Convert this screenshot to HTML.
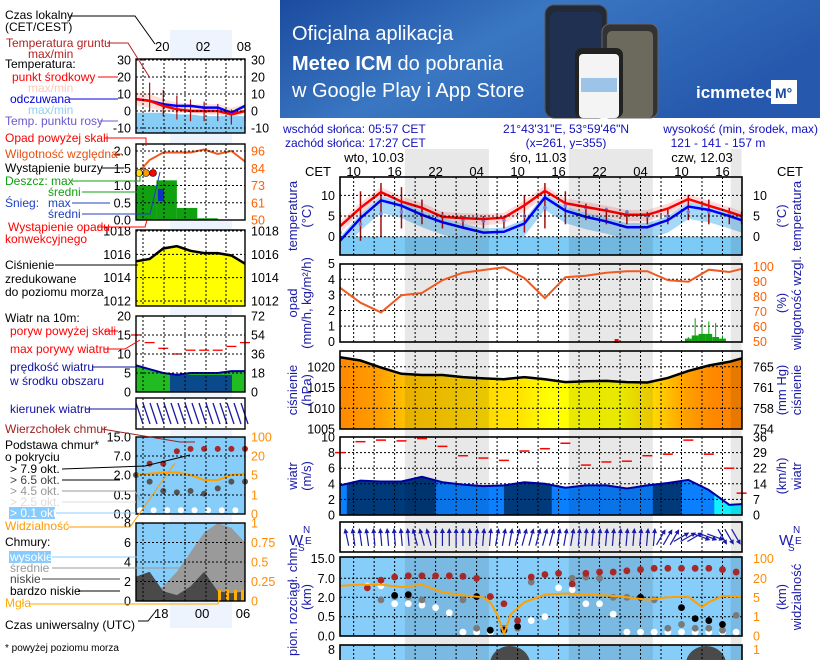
<!DOCTYPE html>
<html><head><meta charset="utf-8">
<style>
body{margin:0;background:#fff;}
svg{display:block;font-family:"Liberation Sans",sans-serif;}
.lg{font-size:12px;}
.tk{font-size:12px;}
</style></head>
<body>
<svg id="c" width="820" height="660" viewBox="0 0 820 660" xmlns="http://www.w3.org/2000/svg">
<defs>
 <linearGradient id="bannerGrad" x1="0" y1="0" x2="1" y2="0.4">
  <stop offset="0" stop-color="#1b4b9f"/><stop offset="0.45" stop-color="#3a77c2"/><stop offset="1" stop-color="#2659ad"/>
 </linearGradient>
 <linearGradient id="presGrad" gradientUnits="userSpaceOnUse" x1="340" y1="0" x2="742" y2="0">
  <stop offset="0" stop-color="#ff8800"/><stop offset="0.1" stop-color="#ffa000"/><stop offset="0.16" stop-color="#ffc000"/>
  <stop offset="0.3" stop-color="#ffd400"/><stop offset="0.45" stop-color="#ffe400"/><stop offset="0.52" stop-color="#ffff00"/>
  <stop offset="0.7" stop-color="#ffff00"/><stop offset="0.78" stop-color="#ffd800"/>
  <stop offset="0.86" stop-color="#ffa000"/><stop offset="0.93" stop-color="#ff8800"/><stop offset="1" stop-color="#ff8400"/>
 </linearGradient>
 <clipPath id="plotClip"><rect x="340" y="170" width="402" height="490"/></clipPath>
</defs>

<g>
 <rect x="280" y="0" width="540" height="118" fill="url(#bannerGrad)"/>
 <text x="292" y="40" fill="#fff" font-size="20">Oficjalna aplikacja</text>
 <text x="292" y="70" fill="#fff" font-size="20"><tspan font-weight="bold">Meteo ICM</tspan> do pobrania</text>
 <text x="292" y="97" fill="#fff" font-size="20">w Google Play i App Store</text>
 <rect x="545" y="5" width="62" height="113" rx="9" fill="#222a38" stroke="#555"/>
 <rect x="550" y="12" width="52" height="106" rx="6" fill="#203050"/>
 <rect x="602" y="24" width="56" height="94" rx="8" fill="#333" stroke="#666"/>
 <rect x="607" y="31" width="46" height="87" rx="5" fill="#6b6a5c"/>
 <rect x="575" y="48" width="48" height="70" rx="7" fill="#222"/>
 <rect x="579" y="54" width="40" height="64" rx="4" fill="#f4f4f4"/>
 <rect x="581" y="78" width="36" height="14" fill="#9cc3e8"/>
 <text x="696" y="98" fill="#fff" font-size="17" font-weight="bold">icmmeteo</text>
 <rect x="771" y="80" width="26" height="24" fill="#fff"/>
 <text x="775" y="98" fill="#1b4b9f" font-size="14" font-weight="bold">M°</text>
</g>

<g class="tk" fill="#1010c0">
 <text x="283" y="133">wschód słońca: 05:57 CET</text>
 <text x="285" y="147">zachód słońca: 17:27 CET</text>
 <text x="566" y="133" text-anchor="middle">21°43'31"E, 53°59'46"N</text>
 <text x="566" y="147" text-anchor="middle">(x=261, y=355)</text>
 <text x="818" y="133" text-anchor="end">wysokość (min, środek, max)</text>
 <text x="718" y="147" text-anchor="middle">121 - 141 - 157 m</text>
</g>

<g id="night-layer"></g>
<g id="chart-layer"></g>

<g id="left-layer"></g>
<g class="lg">
 <text x="5" y="19">Czas lokalny</text>
 <text x="5" y="31">(CET/CEST)</text>
 <text x="6" y="47" fill="#b22222">Temperatura gruntu</text>
 <text x="28" y="58" fill="#b22222">max/min</text>
 <text x="5" y="68">Temperatura:</text>
 <text x="12" y="81" fill="#ff0000">punkt środkowy</text>
 <text x="28" y="92" fill="#ffc8b8">max/min</text>
 <text x="10" y="103" fill="#0000e0">odczuwana</text>
 <text x="28" y="114" fill="#90d0f0">max/min</text>
 <text x="5" y="125" fill="#6a5acd">Temp. punktu rosy</text>
 <text x="5" y="142" fill="#ff0000">Opad powyżej skali</text>
 <text x="5" y="158" fill="#e85010">Wilgotność względna</text>
 <text x="5" y="172">Wystąpienie burzy</text>
 <text x="5" y="185" fill="#10a010">Deszcz: max</text>
 <text x="48" y="196" fill="#10a010">średni</text>
 <text x="5" y="207" fill="#2040c0">Śnieg:</text>
 <text x="48" y="207" fill="#2040c0">max</text>
 <text x="48" y="218" fill="#2040c0">średni</text>
 <text x="8" y="231" fill="#ff0000">Wystąpienie opadu</text>
 <text x="5" y="243" fill="#ff0000">konwekcyjnego</text>
 <text x="5" y="269">Ciśnienie</text>
 <text x="5" y="283">zredukowane</text>
 <text x="5" y="296">do poziomu morza</text>
 <text x="5" y="322">Wiatr na 10m:</text>
 <text x="10" y="335" fill="#ff0000">poryw powyżej skali</text>
 <text x="10" y="353" fill="#ff0000">max porywy wiatru</text>
 <text x="10" y="371" fill="#1010a0">prędkość wiatru</text>
 <text x="10" y="385" fill="#1010a0">w środku obszaru</text>
 <text x="10" y="413" fill="#1010a0">kierunek wiatru</text>
 <text x="5" y="433" fill="#a02020">Wierzchołek chmur</text>
 <text x="5" y="449">Podstawa chmur*</text>
 <text x="5" y="461">o pokryciu</text>
 <text x="10" y="473">&gt; 7.9 okt.</text>
 <text x="10" y="484" fill="#444">&gt; 6.5 okt.</text>
 <text x="10" y="495" fill="#999">&gt; 4.5 okt.</text>
 <text x="10" y="506" fill="#ddd">&gt; 2.5 okt.</text>
 <rect x="9" y="507" width="46" height="12" fill="#88ccff"/>
 <text x="10" y="517" fill="#fff">&gt; 0.1 okt.</text>
 <text x="5" y="530" fill="#ff9900">Widzialność</text>
 <text x="5" y="546">Chmury:</text>
 <rect x="9" y="551" width="42" height="12" fill="#88ccff"/>
 <text x="10" y="561" fill="#fff">wysokie</text>
 <text x="10" y="572" fill="#999">średnie</text>
 <text x="10" y="583" fill="#444">niskie</text>
 <text x="10" y="595">bardzo niskie</text>
 <text x="5" y="607" fill="#ffaa00">Mgła</text>
 <text x="5" y="629">Czas uniwersalny (UTC)</text>
 <text x="5" y="651" font-size="10">* powyżej poziomu morza</text>
</g>
<g stroke="#000" stroke-width="1" fill="none">
 <polyline points="70,16 135,16 155,44"/>
 <polyline points="107,43 128,43 150,78" stroke="#b22222"/>
 <polyline points="98,77 118,77" stroke="#ff0000"/>
 <polyline points="70,99 118,99" stroke="#0000e0"/>
 <polyline points="100,121 118,121" stroke="#6a5acd"/>
 <polyline points="104,138 146,138 146,146" stroke="#ff0000"/>
 <polyline points="113,154 122,154" stroke="#e85010"/>
 <polyline points="102,168 124,168"/>
 <polyline points="72,181 140,181 140,176" stroke="#10a010"/>
 <polyline points="82,192 145,192" stroke="#10a010"/>
 <polyline points="72,203 110,203" stroke="#2040c0"/>
 <polyline points="82,214 150,214 160,172" stroke="#2040c0"/>
 <polyline points="98,227 145,227 147,220" stroke="#ff0000"/>
 <polyline points="55,265 138,265"/>
 <polyline points="104,331 118,331" stroke="#ff0000"/>
 <polyline points="104,349 125,349 140,340" stroke="#ff0000"/>
 <polyline points="92,367 136,367" stroke="#1010a0"/>
 <polyline points="86,409 136,409" stroke="#1010a0"/>
 <polyline points="102,429 180,442 195,442" stroke="#a02020"/>
 <polyline points="62,469 145,466 190,455"/>
 <polyline points="62,480 120,480"/>
 <polyline points="62,491 135,491 140,500" stroke="#999"/>
 <polyline points="62,502 136,502" stroke="#ddd"/>
 <polyline points="56,513 136,513" stroke="#88ccff"/>
 <polyline points="68,527 130,527 175,463" stroke="#ff9900"/>
 <polyline points="52,557 188,557" stroke="#88ccff"/>
 <polyline points="52,568 185,568" stroke="#999"/>
 <polyline points="42,579 120,579" stroke="#444"/>
 <polyline points="78,591 120,591"/>
 <polyline points="30,604 218,604 220,595" stroke="#ffaa00"/>
 <polyline points="138,621 148,621 156,611"/>
</g>
</svg>

<script>
const NS='http://www.w3.org/2000/svg';
// ===== main chart data =====
const hours3=[0,3,6,9,12,15,18,21,24,27,30,33,36,39,42,45,48,51,54,57,58.8];
const tempMid=[2.5,7,10.8,8.5,7,4.8,4.5,4.3,4.6,7.6,11.1,8.1,7.2,6.3,5.3,5.3,6.8,9.1,7.5,6,5];
const tempFeel=[-1,4.5,8.8,7.5,5.3,3.5,2.2,1,1.2,3.2,9.5,6.3,4.8,3.7,2.3,2.3,4,7.3,6.5,5,4];
const dewPoint=[1,3,5.5,6,5.5,5,4,3.8,4,5,7,7.5,7,6.5,6,5,5,6,6,5.5,5];
const groundMax=[6,11,13,12,9,6,5,5,5,10,13,11,8,7,6,6,7,10,9,7,6];
const groundMin=[-3,-1,0,2,3,2,2,2,2,1,2,3,4,3,3,3,3,4,3,3,3];
const humidity=[86,76,69.5,81,82.5,91,96,97.8,99.6,92.4,79,93,94,96,97,97,91,90,98,96.5,98.5];
const rainHours=[51,52,53,54,55,56];
const rainMean=[0.2,0.4,0.5,0.5,0.3,0.2];
const rainMax=[0.3,1.5,1.0,1.3,1.2,0.4];
const pressure=[1022.3,1021.5,1019.8,1018.3,1018,1018,1017.5,1017.2,1017,1017.5,1017,1016.3,1016.5,1016.6,1016.3,1016.2,1017.3,1019,1020.3,1021.2,1022];
const windSpeed=[3.8,4.4,4.3,4.3,4.9,4.2,3.9,3.7,3.8,4.2,4.0,3.5,3.8,3.8,3.4,3.8,4.1,4.5,3.2,1.3,1.4];
const windGust=[8,9.4,9.6,9.5,9.8,8.8,7.6,7.3,7.0,8.2,8.5,9.2,6.4,6.8,6.9,7.6,7.8,9.6,7.8,6.0,2.8];
const windDir=[-12,-8,-5,-5,-15,0,0,5,10,15,15,10,5,5,5,5,30,60,110,150,100];
const hours2=[0,2,4,6,8,10,12,14,16,18,20,22,24,26,28,30,32,34,36,38,40,42,44,46,48,50,52,54,56,58];
const cloudTop=[null,null,4.5,6.5,7.5,8,8,8,8,7.8,7,2.2,1.5,0.4,7.5,8.5,9,5.5,9,9.5,9.5,10,10.5,11,11,11,11,11,10.5,9.5];
const cloudLow=[null,null,null,null,2.5,2.7,null,null,null,null,2.2,0.15,0.15,0.25,null,null,null,null,null,null,null,null,2,null,null,1.2,0.45,0.4,0.3,null];
const cloudMid=[null,null,null,1.8,2.2,2.2,1.8,null,null,1.8,0.2,0.15,0.2,0.2,6,null,null,7,7.5,7,2,2,2,1.8,0.2,0.3,0.2,0.2,0.15,0.6];
const cloudThin=[null,null,5,5,1.5,1.5,1.4,1.2,0.8,0.1,0.1,0.1,null,0.2,0.4,0.5,4.5,4,1.5,1.5,0.7,0.1,0.1,0.1,0.1,0.1,0.1,0.1,0.1,0.1];
const visHours=[0,3,6,9,12,15,18,21,22,23,24,25,27,30,33,36,39,42,45,48,51,53,54,56,58.8];
const visibility=[14,15,15,13,15,9,6.5,5,4,1.5,0.1,1.5,4,7,8,7,6.5,5,4.5,5,5.5,3,4,6,5.5];
const nightStart=[9.5,33.5,57.2];
const nightEnd=[21.8,45.8,58.8];
const darkWindStart=[1,24,45.8];
const darkWindEnd=[14,31,50];
const hourTickPos=[2,8,14,20,26,32,38,44,50,56];
const hourTickLabels=['10','16','22','04','10','16','22','04','10','16'];
const dayPos=[5,29,53];
const dayLabels=['wto, 10.03','śro, 11.03','czw, 12.03'];
const tempTicks=[0,5,10];
const precipTicks=[0,1,2,3,4,5];
const humTicks=[50,60,70,80,90,100];
const presTicks=[1005,1010,1015,1020];
const presMmLabels=['754','758','761','765'];
const windTicks=[0,2,4,6,8,10];
const windKmhLabels=['0','7','14','22','29','36'];
const cloudTicks=[0,0.5,2,7,15];
const cloudTickLabels=['0.0','0.5','2.0','7.0','15.0'];
const visTickLabels=['0','1','5','20','100'];

const X=h=>340+h*6.83;
const Yt=v=>236.7-v*4.13;
const Yp=v=>341.7-v*15.6;
const Yh=v=>341.7-(v-50)*1.5;
const Ypr=v=>429-(v-1005)*4.15;
const Yw=v=>515-v*7.8;
function pw(v,d,r){for(let i=0;i<d.length-1;i++){if(v<=d[i+1]){return r[i]+(v-d[i])/(d[i+1]-d[i])*(r[i+1]-r[i]);}}return r[r.length-1];}
const Yc=v=>pw(v,[0,0.5,2,7,15],[636,616.7,597.3,578.3,558.3]);
const Yv=v=>pw(v,[0,1,5,20,100],[636,616.7,597.3,578.3,558.3]);

function mk(tag,attrs,parent){const e=document.createElementNS(NS,tag);for(const k in attrs)e.setAttribute(k,attrs[k]);parent.appendChild(e);return e;}
const L=document.getElementById('chart-layer');
const N=document.getElementById('night-layer');
const pts=(xs,ys,fx,fy)=>xs.map((x,i)=>fx(x)+','+fy(ys[i])).join(' ');

const panels=[
 {n:'temperature',y0:177,y1:255},{n:'precipitation',y0:264,y1:342},{n:'pressure',y0:351,y1:429},
 {n:'wind-speed',y0:437,y1:515},{n:'wind-direction',y0:522,y1:552},{n:'clouds',y0:557,y1:636},{n:'cloud-cover',y0:645,y1:664}];

for(let i=0;i<nightStart.length;i++){
 const e=mk('rect',{x:X(nightStart[i]),y:149,width:X(nightEnd[i])-X(nightStart[i]),height:511,fill:'#e8e8e8'},N);
 
 
}
dayLabels.forEach((t,i)=>{
 const e=mk('text',{x:X(dayPos[i]),y:162,'text-anchor':'middle','font-size':13},L);e.textContent=t;
 
 
});
hourTickLabels.forEach((t,i)=>{
 const e=mk('text',{x:X(hourTickPos[i]),y:176,'text-anchor':'middle','font-size':13},L);e.textContent=t;
 
 
});
[318,790].forEach(x=>{
 const e=mk('text',{x:x,y:176,'text-anchor':'middle','font-size':13},L);e.textContent='CET';
 
 
});

function panelGroup(p,bg){
 const g=mk('g',{},L);
 
 
 const r=mk('rect',{x:340,y:p.y0,width:402,height:p.y1-p.y0,fill:bg},g);
 
 
 return g;
}
function overlay(g,p){
 for(let i=0;i<nightStart.length;i++){
  const e=mk('rect',{x:X(nightStart[i]),y:p.y0,width:X(nightEnd[i])-X(nightStart[i]),height:p.y1-p.y0,fill:'rgba(0,0,0,0.09)'},g);
  
  
 }
}
function grid(g,p,ys){
 for(let h=2;h<58.8;h+=3){
  const e=mk('line',{x1:X(h),x2:X(h),y1:p.y0,y2:p.y1,stroke:'#000','stroke-dasharray':'2,2','stroke-width':1},g);
  
  
 }
 ys.forEach(y=>{
  const e=mk('line',{x1:340,x2:742,y1:y,y2:y,stroke:'#000','stroke-dasharray':'2,2','stroke-width':1},g);
  
  
 });
}
function border(g,p){
 const e=mk('rect',{x:340,y:p.y0,width:402,height:p.y1-p.y0,fill:'none',stroke:'#000','stroke-width':1.6},g);
 
 
}
function ticks(vals,labels,fy,x,anchor,color,name){
 vals.forEach((v,i)=>{
  const e=mk('text',{x:x,y:fy(v)+4.5,'text-anchor':anchor,'font-size':12.5,fill:color},L);e.textContent=labels[i];
  
  
 });
}
function vtitle(txt,x,y,color,name){
 const e=mk('text',{x:x,y:y,'text-anchor':'middle','font-size':13,fill:color,transform:'rotate(-90 '+x+' '+y+')'},L);e.textContent=txt;
 
 
}
const navy='#1a1aa8';

{const p=panels[0];const g=panelGroup(p,'#fff');
 const cg=mk('g',{'clip-path':'url(#plotClip)'},g);
 const pink=mk('polygon',{points:pts(hours3,tempMid.map(v=>v+1.2),X,Yt)+' '+pts(hours3.slice().reverse(),tempMid.slice().reverse().map(v=>v-1.5),X,Yt),fill:'#ffdada'},cg);
 
 
 const lb=mk('polygon',{points:pts(hours3,tempFeel.map(v=>v+1),X,Yt)+' '+pts(hours3.slice().reverse(),tempFeel.slice().reverse().map(v=>v-3),X,Yt),fill:'#a6d8f8'},cg);
 
 
 const z=mk('rect',{x:340,y:Yt(0),width:402,height:255-Yt(0),fill:'#7ccbf6'},cg);
 
 
 overlay(g,p);grid(g,p,tempTicks.map(Yt));
 hours3.forEach((h,i)=>{
  const e=mk('line',{x1:X(h),x2:X(h),y1:Yt(groundMin[i]),y2:Yt(groundMax[i]),stroke:'#a01010','stroke-width':1.5},cg);
  
  
  const d=mk('circle',{cx:X(h),cy:Yt(dewPoint[i]),r:1.8,fill:'#8080e0'},cg);
  
  
 });
 const bl=mk('polyline',{points:pts(hours3,tempFeel,X,Yt),fill:'none',stroke:'#0000ff','stroke-width':2.5},cg);
 
 
 const rl=mk('polyline',{points:pts(hours3,tempMid,X,Yt),fill:'none',stroke:'#ff0000','stroke-width':2.5},cg);
 
 
 border(g,p);
 ticks(tempTicks,tempTicks.map(String),Yt,335,'end','#000','temp-tick');
 ticks(tempTicks,tempTicks.map(String),Yt,753,'start','#000','temp-tick-right');
 vtitle('temperatura',297,216,navy,'temp-axis-title');vtitle('(°C)',311,216,navy,'temp-axis-unit');
 vtitle('(°C)',786,216,navy,'temp-axis-unit-right');vtitle('temperatura',801,216,navy,'temp-axis-title-right');
}
{const p=panels[1];const g=panelGroup(p,'#fff');
 overlay(g,p);grid(g,p,[1,2,3,4].map(Yp));
 rainHours.forEach((h,i)=>{
  const a=mk('line',{x1:X(h),x2:X(h),y1:Yp(0),y2:Yp(rainMax[i]),stroke:'#10a010','stroke-width':1},g);
  
  
  const b=mk('rect',{x:X(h)-3.4,y:Yp(rainMean[i]),width:6.8,height:Yp(0)-Yp(rainMean[i]),fill:'#10a010'},g);
  
  
 });
 const hl=mk('polyline',{points:pts(hours3,humidity,X,Yh),fill:'none',stroke:'#f05a20','stroke-width':2},g);
 
 
 const cm=mk('rect',{x:X(40.5)-2,y:339,width:4,height:4,fill:'#ff0000'},g);
 
 
 border(g,p);
 ticks(precipTicks,precipTicks.map(String),Yp,335,'end','#000','precip-tick');
 ticks(humTicks,humTicks.map(String),Yh,753,'start','#ff6000','humidity-tick');
 vtitle('opad',297,303,navy,'precip-axis-title');vtitle('(mm/h, kg/m²/h)',311,303,navy,'precip-axis-unit');
 vtitle('(%)',786,303,navy,'humidity-axis-unit');vtitle('wilgotność wzgl.',801,303,navy,'humidity-axis-title');
}
{const p=panels[2];const g=panelGroup(p,'#fff');
 const f=mk('polygon',{points:pts(hours3,pressure,X,Ypr)+' 742,429 340,429',fill:'url(#presGrad)'},g);
 
 
 overlay(g,p);grid(g,p,[1010,1015,1020].map(Ypr));
 const l=mk('polyline',{points:pts(hours3,pressure,X,Ypr),fill:'none',stroke:'#000','stroke-width':2.5},g);
 
 
 border(g,p);
 ticks(presTicks,presTicks.map(String),Ypr,335,'end','#000','pressure-tick');
 ticks(presTicks,presMmLabels,Ypr,753,'start','#000','pressure-mm-tick');
 vtitle('ciśnienie',297,390,navy,'pressure-axis-title');vtitle('(hPa)',311,390,navy,'pressure-axis-unit');
 vtitle('(mm Hg)',786,390,navy,'pressure-mm-unit');vtitle('ciśnienie',801,390,navy,'pressure-mm-title');
}
{const p=panels[3];const g=panelGroup(p,'#fff');
 const defs=document.querySelector('defs');
 const cp=mk('clipPath',{id:'windClip'},defs);
 mk('polygon',{points:pts(hours3,windSpeed,X,Yw)+' 742,515 340,515'},cp);
 const wa=mk('polygon',{points:pts(hours3,windSpeed,X,Yw)+' 742,515 340,515',fill:'#0a80ff'},g);
 
 
 const cg=mk('g',{'clip-path':'url(#windClip)'},g);
 for(let i=0;i<darkWindStart.length;i++){
  const e=mk('rect',{x:X(darkWindStart[i]),y:437,width:X(darkWindEnd[i])-X(darkWindStart[i]),height:78,fill:'#003a7a'},cg);
  
  
 }
 const cy=mk('rect',{x:X(54.8),y:437,width:742-X(54.8),height:78,fill:'#10f0ff'},cg);
 
 
 overlay(g,p);grid(g,p,[2,4,6,8].map(Yw));
 const wl=mk('polyline',{points:pts(hours3,windSpeed,X,Yw),fill:'none',stroke:'#0000a0','stroke-width':2},g);
 
 
 hours3.forEach((h,i)=>{
  const e=mk('line',{x1:X(h)-5,x2:X(h)+5,y1:Yw(windGust[i]),y2:Yw(windGust[i]),stroke:'#ff0000','stroke-width':1.5},g);
  
  
 });
 border(g,p);
 ticks(windTicks,windTicks.map(String),Yw,335,'end','#000','wind-tick');
 ticks(windTicks,windKmhLabels,Yw,753,'start','#000','wind-kmh-tick');
 vtitle('wiatr',297,476,navy,'wind-axis-title');vtitle('(m/s)',311,476,navy,'wind-axis-unit');
 vtitle('(km/h)',786,476,navy,'wind-kmh-unit');vtitle('wiatr',801,476,navy,'wind-kmh-title');
}
{const p=panels[4];const g=panelGroup(p,'#fff');
 overlay(g,p);grid(g,p,[]);
 for(let h=1;h<58.8;h+=1){
  const idx=Math.min(hours3.length-1,Math.round(h/3));
  const a=windDir[idx];const x=X(h),y=537;
  const ag=mk('g',{transform:'rotate('+a+' '+x+' '+y+')'},g);
  
  
  mk('line',{x1:x,x2:x,y1:y+9,y2:y-6,stroke:navy,'stroke-width':1.2},ag);
  mk('polygon',{points:(x-2.5)+','+(y-4)+' '+(x+2.5)+','+(y-4)+' '+x+','+(y-9),fill:navy},ag);
 }
 border(g,p);
 [289,779].forEach(x=>{
  const w=mk('text',{x:x,y:545,'font-size':15,fill:navy},L);w.textContent='W';
  
  
  const n=mk('text',{x:x+14,y:533,'font-size':10,fill:navy},L);n.textContent='N';
  
  
  const s=mk('text',{x:x+9,y:551,'font-size':10,fill:navy},L);s.textContent='S';
  
  
  const e2=mk('text',{x:x+16,y:544,'font-size':10,fill:navy},L);e2.textContent='E';
  
  
 });
}
{const p=panels[5];const g=panelGroup(p,'#87cdf9');
 overlay(g,p);grid(g,p,[0.5,2,7].map(Yc));
 const series=[[cloudThin,'#ffffff','cloud-thin'],[cloudMid,'#7a7a7a','cloud-mid'],[cloudLow,'#000000','cloud-low'],[cloudTop,'#a82828','cloud-top']];
 series.forEach(s=>{
  hours2.forEach((h,i)=>{
   const v=s[0][i];if(v===null)return;
   const e=mk('circle',{cx:X(h),cy:Yc(v),r:3.4,fill:s[1]},g);
   
   
  });
 });
 const vl=mk('polyline',{points:pts(visHours,visibility,X,Yv),fill:'none',stroke:'#ffa000','stroke-width':2},g);
 
 
 border(g,p);
 ticks(cloudTicks,cloudTickLabels,Yc,335,'end','#000','cloud-tick');
 ticks(cloudTicks,visTickLabels,Yc,753,'start','#ff8c00','visibility-tick');
 vtitle('pion. rozciągł. chm.',297,600,navy,'cloud-axis-title');vtitle('(km)',311,597,navy,'cloud-axis-unit');
 vtitle('(km)',786,597,navy,'visibility-axis-unit');vtitle('widzialność',801,597,navy,'visibility-axis-title');
}
{const p=panels[6];const g=panelGroup(p,'#87cdf9');
 overlay(g,p);
 [[510,20],[706,20]].forEach(b=>{
  const e=mk('ellipse',{cx:b[0],cy:664,rx:b[1],ry:18,fill:'#4a4a4a'},g);
  
  
 });
 grid(g,p,[]);border(g,p);
 const a=mk('text',{x:335,y:654,'text-anchor':'end','font-size':12.5},L);a.textContent='8';
 
 
 const b=mk('text',{x:753,y:654,'font-size':12.5,fill:'#ff8c00'},L);b.textContent='1';
 
 
}

// ===== left legend mini chart data =====
const miniIdx=[0,1,2,3,4,5,6,7,8];
const miniTemp=[7,6,3,1,0,0,0,-2,0];
const miniFeel=[3,2,0,-1,-1,-2,-2,-5,-1];
const miniDew=[-1,-1,-1,-2,-2,-3,-3,-3,-3];
const miniHum=[80,90,95,95,95,97,94,96,89];
const miniRain=[1.0,1.15,0.35,0.05];
const miniPres=[1015.4,1015.6,1016.5,1016.7,1016.3,1016.1,1016.1,1015.9,1015.2];
const miniWind=[7,6,5,4.5,5,5,5,5.5,5.5];
const miniGust=[15,13,11.5,10,11,11,11,12,13];
const miniTop=[null,5,5,9,10,10,10,10,10];
const miniBase=[2,1.5,0.8,0.7,0.8,0.6,1,1.5,1.5];
const miniVis=[5,6,7,7,5,4,4,5,6];
const miniCoverLow=[2.5,3,1,0.6,1.5,3,1,0.8,1];
const miniCoverMid=[0.3,0.5,1.5,3,5,7,8,7.5,6];
const miniTickLabelsTemp=['30','20','10','0','-10'];const miniTempTicks=[30,20,10,0,-10];
const miniPrecipLabels=['2.0','1.5','1.0','0.5','0.0'];const miniPrecipTicks=[2,1.5,1,0.5,0];
const miniHumLabels=['96','84','73','61','50'];
const miniPresTicks=[1018,1016,1014,1012];
const miniWindTicks=[20,15,10,5,0];const miniWindKmh=['72','54','36','18','0'];
const miniCoverTicks=[8,6,4,2,0];const miniCoverRight=['1','0.75','0.5','0.25','0'];
const miniTopLabels=['20','02','08'];const miniBottomLabels=['18','00','06'];const miniLabelIdx=[2,5,8];

const XL=i=>136+i*109/8;
const YLt=v=>111-v*1.7;
const YLp=v=>220-v*34.5;
const YLh=v=>220-(v-50)*1.5;
const YLpr=v=>301-(v-1012)*11.67;
const YLw=v=>392-v*3.8;
const YLc=v=>pw(v,[0,0.5,2,7,15],[514,495,475,456,437]);
const YLv=v=>pw(v,[0,1,5,20,100],[514,495,475,456,437]);
const YLcov=v=>601-v*9.75;
const LG=document.getElementById('left-layer');
{const e=mk('rect',{x:170,y:30,width:62,height:598,fill:'#eef4fd'},LG);
 
 }
const mini=[{y0:59,y1:133,bg:'#fff'},{y0:144,y1:220,bg:'#fff'},{y0:230,y1:306,bg:'#fff'},{y0:316,y1:392,bg:'#fff'},{y0:398,y1:429,bg:'#fff'},{y0:437,y1:514,bg:'#87cdf9'},{y0:523,y1:601,bg:'#87cdf9'}];
mini.forEach(m=>{
 const e=mk('rect',{x:136,y:m.y0,width:109,height:m.y1-m.y0,fill:m.bg},LG);
 
 
});
{const pk=mk('polygon',{points:pts(miniIdx,miniTemp.map(v=>v+4),XL,YLt)+' '+pts(miniIdx.slice().reverse(),miniFeel.slice().reverse(),XL,YLt),fill:'#ffe0d8'},LG);
 
 
 const lb=mk('polygon',{points:pts(miniIdx,miniDew,XL,YLt)+' 245,133 136,133',fill:'#88cdf6'},LG);
 
 
 miniIdx.forEach(i=>{
  const e=mk('line',{x1:XL(i),x2:XL(i),y1:YLt(miniTemp[i]-6),y2:YLt(miniTemp[i]+12-i*1.3),stroke:'#a01010','stroke-width':1.2},LG);
  
  
 });
 const b=mk('polyline',{points:pts(miniIdx,miniFeel.map(v=>v+4),XL,YLt),fill:'none',stroke:'#0000ff','stroke-width':2.5},LG);
 
 
 const r=mk('polyline',{points:pts(miniIdx,miniTemp,XL,YLt),fill:'none',stroke:'#ff0000','stroke-width':2.5},LG);
 
 
}
{miniRain.forEach((v,i)=>{
  const e=mk('rect',{x:XL(i*1.5),y:YLp(v),width:109/8*1.5,height:220-YLp(v),fill:'#10a010'},LG);
  
  
 });
 const sb=mk('rect',{x:158,y:YLp(0.9),width:6,height:YLp(0.55)-YLp(0.9),fill:'#1030c0'},LG);
 
 
 const h=mk('polyline',{points:pts(miniIdx,miniHum,XL,YLh),fill:'none',stroke:'#f05a20','stroke-width':2},LG);
 
 
 [[139,'#ffdd00'],[146,'#ff9900'],[153,'#ff0000']].forEach(c=>{
  const e=mk('circle',{cx:c[0],cy:173,r:3.5,fill:c[1],stroke:'#000','stroke-width':0.6},LG);
  
  
 });
}
{const f=mk('polygon',{points:pts(miniIdx,miniPres,XL,YLpr)+' 245,306 136,306',fill:'#ffff00'},LG);
 
 
 const l=mk('polyline',{points:pts(miniIdx,miniPres,XL,YLpr),fill:'none',stroke:'#000','stroke-width':2.5},LG);
 
 
}
{const f=mk('polygon',{points:pts(miniIdx,miniWind,XL,YLw)+' 245,392 136,392',fill:'#22bb22'},LG);
 
 
 const d=mk('rect',{x:170,y:YLw(4.5),width:62,height:392-YLw(4.5),fill:'#0a4a8a'},LG);
 
 
 const l=mk('polyline',{points:pts(miniIdx,miniWind,XL,YLw),fill:'none',stroke:'#0000a0','stroke-width':2},LG);
 
 
 miniIdx.forEach(i=>{
  const e=mk('line',{x1:XL(i)-5,x2:XL(i)+5,y1:YLw(miniGust[i]),y2:YLw(miniGust[i]),stroke:'#ff0000','stroke-width':1.3},LG);
  
  
 });
 for(let x=139;x<248;x+=7){
  const e=mk('line',{x1:x-3,y1:403,x2:x+4,y2:424,stroke:navy,'stroke-width':1.3},LG);
  
  
 }
}
{miniIdx.forEach(i=>{
  if(miniTop[i]!==null){const e=mk('circle',{cx:XL(i),cy:YLc(miniTop[i]),r:3,fill:'#a82828'},LG);
   
   }
  const b=mk('circle',{cx:XL(i),cy:YLc(miniBase[i]),r:3,fill:'#555'},LG);
  
  
  const w=mk('circle',{cx:XL(i)+4,cy:YLc(0.1),r:3,fill:'#fff'},LG);
  
  
 });
 const vv=mk('polyline',{points:pts(miniIdx,miniVis,XL,YLv),fill:'none',stroke:'#ffa000','stroke-width':2},LG);
 
 
}
{const m=mk('polygon',{points:pts(miniIdx,miniCoverMid,XL,YLcov)+' 245,601 136,601',fill:'#9a9a9a'},LG);
 
 
 const l=mk('polygon',{points:pts(miniIdx,miniCoverLow,XL,YLcov)+' 245,601 136,601',fill:'#4a4a4a'},LG);
 
 
 [218,226,234,241].forEach(x=>{
  const e=mk('rect',{x:x,y:590,width:3,height:11,fill:'#ffb000'},LG);
  
  
 });
}
mini.forEach(m=>{
 [143,164,185,206,226].forEach(x=>{
  const e=mk('line',{x1:x,x2:x,y1:m.y0,y2:m.y1,stroke:'#000','stroke-dasharray':'2,2'},LG);
  
  
 });
 const f=mk('rect',{x:136,y:m.y0,width:109,height:m.y1-m.y0,fill:'none',stroke:'#000','stroke-width':1.4},LG);
 
 
});
function miniTicks(vals,labL,labR,fy,colR,name){
 vals.forEach((v,i)=>{
  const y=fy(v);
  const g=mk('line',{x1:136,x2:245,y1:y,y2:y,stroke:'#000','stroke-dasharray':'2,2'},LG);
  
  
  const a=mk('text',{x:131,y:y+4.5,'text-anchor':'end','font-size':12.5},LG);a.textContent=labL[i];
  
  
  if(labR){const b=mk('text',{x:251,y:y+4.5,'font-size':12.5,fill:colR},LG);b.textContent=labR[i];
  
  }
 });
}
miniTicks(miniTempTicks,miniTickLabelsTemp,miniTickLabelsTemp,YLt,'#000','mini-temp-tick');
miniTicks(miniPrecipTicks,miniPrecipLabels,miniHumLabels,YLp,'#ff6000','mini-precip-tick');
miniTicks(miniPresTicks,miniPresTicks.map(String),miniPresTicks.map(String),YLpr,'#000','mini-pressure-tick');
miniTicks(miniWindTicks,miniWindTicks.map(String),miniWindKmh,YLw,'#000','mini-wind-tick');
miniTicks([15,7,2,0.5,0],['15.0','7.0','2.0','0.5','0.0'],['100','20','5','1','0'],YLc,'#ff8c00','mini-cloud-tick');
miniTicks(miniCoverTicks,miniCoverTicks.map(String),miniCoverRight,YLcov,'#ff8c00','mini-cover-tick');
miniLabelIdx.forEach((i,k)=>{
 const a=mk('text',{x:XL(i)-1,y:51,'text-anchor':'middle','font-size':13},LG);a.textContent=miniTopLabels[k];
 
 
 const b=mk('text',{x:XL(i)-2,y:618,'text-anchor':'middle','font-size':13},LG);b.textContent=miniBottomLabels[k];
 
 
});
</script>
</body></html>
